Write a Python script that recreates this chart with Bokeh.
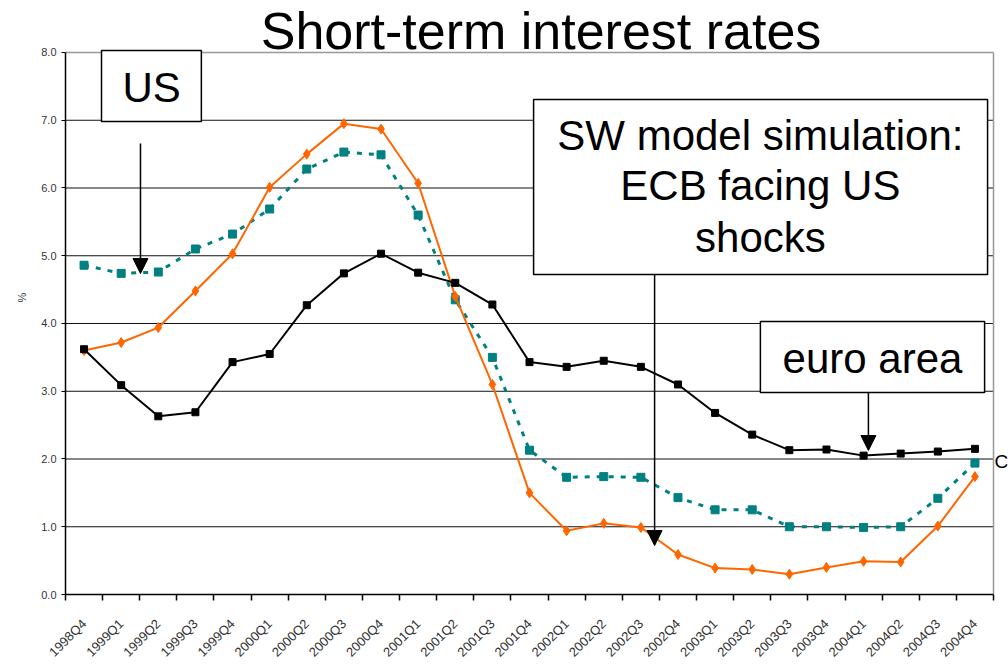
from bokeh.plotting import figure
from bokeh.models import (Range1d, FixedTicker, CustomJSTickFormatter, PrintfTickFormatter,
                          Label, BoxAnnotation, Arrow, NormalHead, ColumnDataSource)
from bokeh.embed import file_html
from bokeh.resources import INLINE
import math

quarters = ["1998Q4", "1999Q1", "1999Q2", "1999Q3", "1999Q4", "2000Q1", "2000Q2", "2000Q3",
            "2000Q4", "2001Q1", "2001Q2", "2001Q3", "2001Q4", "2002Q1", "2002Q2", "2002Q3",
            "2002Q4", "2003Q1", "2003Q2", "2003Q3", "2003Q4", "2004Q1", "2004Q2", "2004Q3",
            "2004Q4"]
euro_area = [3.62, 3.09, 2.63, 2.69, 3.43, 3.55, 4.27, 4.74, 5.03, 4.75, 4.60, 4.28, 3.43,
             3.36, 3.45, 3.36, 3.10, 2.68, 2.36, 2.13, 2.14, 2.05, 2.08, 2.11, 2.15]
us_rates = [4.86, 4.74, 4.76, 5.10, 5.32, 5.69, 6.28, 6.53, 6.49, 5.60, 4.35, 3.50, 2.13,
            1.73, 1.74, 1.73, 1.43, 1.25, 1.25, 1.00, 1.00, 0.99, 1.00, 1.42, 1.94]
sw_simulation = [3.60, 3.72, 3.94, 4.48, 5.03, 6.01, 6.50, 6.95, 6.87, 6.07, 4.40, 3.10, 1.50,
                 0.94, 1.05, 0.99, 0.59, 0.39, 0.37, 0.30, 0.40, 0.49, 0.48, 1.01, 1.74]
y_ticks = [0, 1, 2, 3, 4, 5, 6, 7, 8]

N = len(quarters)
Y_MAX = y_ticks[-1]
xs = [i + 0.5 for i in range(N)]
src = ColumnDataSource(dict(x=xs, euro=euro_area, us=us_rates, sw=sw_simulation))

FONT = "Liberation Sans"

# frame covers the whole area right of the y axis and above the x axis,
# so that title and annotations placed above / right of the data area are not clipped
p = figure(width=1008, height=667, output_backend="svg", toolbar_location=None,
           x_range=Range1d(0, 25.404), y_range=Range1d(0, 8.7675),
           min_border_left=65, min_border_right=0, min_border_top=0, min_border_bottom=73)
p.title.visible = False
p.background_fill_color = "white"
p.border_fill_color = "white"
p.outline_line_color = None
p.xgrid.visible = False
p.ygrid.visible = False

# horizontal grid lines (1..7) limited to the data area, gray box on top/right
grid_vals = y_ticks[1:-1]
p.segment(x0=[0] * len(grid_vals), x1=[N] * len(grid_vals), y0=grid_vals, y1=grid_vals,
          line_color="#111111", line_width=1.2)
p.segment(x0=[0, N], x1=[N, N], y0=[Y_MAX, 0], y1=[Y_MAX, Y_MAX],
          line_color="#999999", line_width=1.5)

# x axis
xa = p.xaxis[0]
xa.bounds = (0, N)
xa.ticker = FixedTicker(ticks=xs, minor_ticks=list(range(N + 1)))
xa.formatter = CustomJSTickFormatter(args=dict(labels=quarters),
                                     code="return labels[Math.floor(tick)];")
xa.major_tick_out = 0
xa.major_tick_in = 0
xa.minor_tick_out = 6
xa.minor_tick_in = 0
xa.minor_tick_line_color = "black"
xa.minor_tick_line_width = 1.5
xa.axis_line_color = "black"
xa.axis_line_width = 1.5
xa.major_label_orientation = math.pi / 4
xa.major_label_text_font = FONT
xa.major_label_text_font_size = "13px"
xa.major_label_text_color = "#333333"
xa.major_label_standoff = 21

# y axis
ya = p.yaxis[0]
ya.bounds = (0, Y_MAX)
ya.ticker = FixedTicker(ticks=y_ticks)
ya.formatter = PrintfTickFormatter(format="%.1f")
ya.major_tick_out = 4
ya.major_tick_in = 0
ya.minor_tick_out = 0
ya.minor_tick_in = 0
ya.major_tick_line_color = "black"
ya.axis_line_color = "black"
ya.axis_line_width = 1.5
ya.major_label_text_font = FONT
ya.major_label_text_font_size = "11px"
ya.major_label_text_color = "#333333"
ya.major_label_standoff = 5
ya.axis_label = "%"
ya.axis_label_text_font = FONT
ya.axis_label_text_font_size = "11px"
ya.axis_label_text_font_style = "normal"
ya.axis_label_text_color = "#333333"
ya.axis_label_standoff = 10

# series
p.line("x", "us", source=src, line_color="#008080", line_width=3, line_dash="5 7")
p.scatter("x", "us", source=src, marker="square", size=8, fill_color="#008080",
          line_color="#008080")
p.line("x", "sw", source=src, line_color="#FF6600", line_width=2)
p.scatter("x", "sw", source=src, marker="diamond", size=10, fill_color="#FF6600",
          line_color="#FF6600")
p.line("x", "euro", source=src, line_color="black", line_width=2)
p.scatter("x", "euro", source=src, marker="square", size=7, fill_color="black",
          line_color="black")


def lab(x, y, s, size="42px", align="center"):
    p.add_layout(Label(x=x, y=y, text=s, text_align=align, text_baseline="middle",
                       text_font=FONT, text_font_size=size, text_color="black"))


def box(l, r, t, b):
    p.add_layout(BoxAnnotation(left=l, right=r, top=t, bottom=b, fill_color="white",
                               fill_alpha=1.0, line_color="black", line_width=1.5,
                               line_alpha=1.0))


def arrow(x, y0, y1):
    p.add_layout(Arrow(end=NormalHead(size=15, fill_color="black", line_color="black"),
                       x_start=x, y_start=y0, x_end=x, y_end=y1, line_color="black",
                       line_width=1.5))


# title
lab(12.81, 8.313, "Short-term interest rates", size="52px")

# US annotation
box(0.97, 3.66, 8.03, 6.98)
lab(2.32, 7.483, "US")
arrow(2.02, 6.657, 4.738)

# SW annotation
box(12.61, 24.84, 7.306, 4.723)
lab(18.72, 6.770, "SW model simulation:")
lab(18.72, 6.032, "ECB facing US")
lab(18.72, 5.272, "shocks")
arrow(15.87, 4.723, 0.723)

# euro area annotation
box(18.72, 24.76, 4.030, 2.982)
lab(21.74, 3.479, "euro area")
arrow(21.63, 2.982, 2.125)

# partly hidden text at the right edge
lab(25.03, 1.963, "C", size="19px", align="left")

open("out.html", "w").write(file_html(p, INLINE))
